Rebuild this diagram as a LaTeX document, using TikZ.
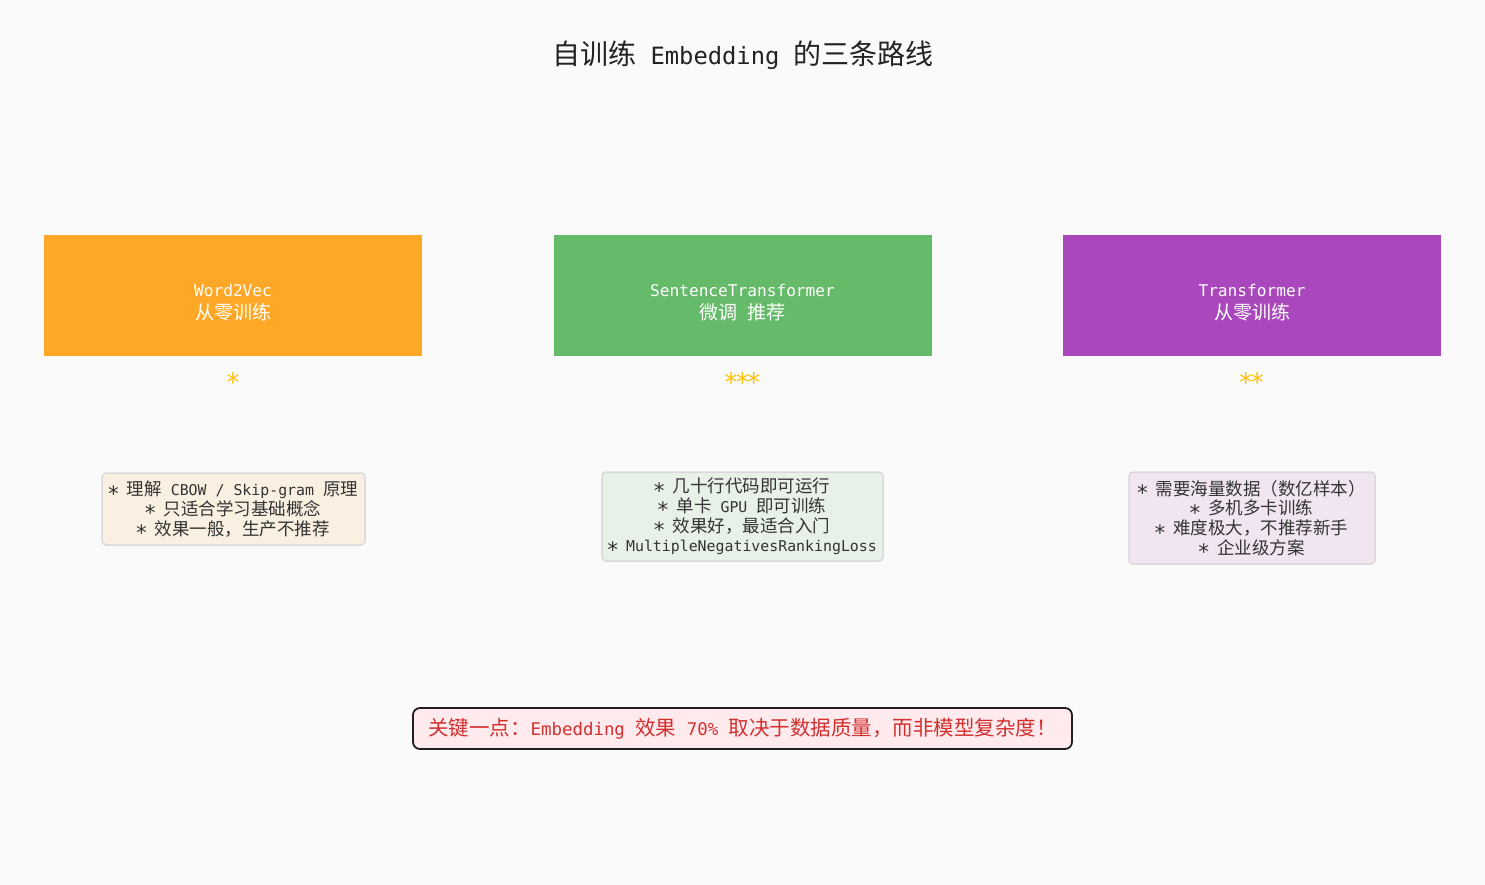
\documentclass[tikz,border=0pt]{standalone}
\usepackage{fontspec}
\setmainfont{DejaVu Sans Mono}[Scale=0.85]
\newfontfamily\cjkf{Noto Sans CJK SC}
\newcommand\zh[1]{{\cjkf #1}}
\newcommand\bul{\makebox[9pt]{\smash{\raisebox{-5.5pt}{\fontsize{25}{25}\selectfont*}}}}
\definecolor{bgc}{HTML}{FAFAFA}
\definecolor{c1}{HTML}{FFA726}
\definecolor{c2}{HTML}{66BB6A}
\definecolor{c3}{HTML}{AB47BC}
\definecolor{starc}{HTML}{FFC107}
\definecolor{nf1}{HTML}{FAF0E1}
\definecolor{nf2}{HTML}{E8F1E8}
\definecolor{nf3}{HTML}{F1E5F2}
\definecolor{nbd}{HTML}{D9D9D9}
\definecolor{txt}{HTML}{333333}
\definecolor{ttl}{HTML}{222222}
\definecolor{redt}{HTML}{D32F2F}
\definecolor{keyf}{HTML}{FFEBEE}
\definecolor{keyb}{HTML}{1F1F1F}
\begin{document}
\begin{tikzpicture}[x=1pt,y=-1pt,
  topbox/.style={rectangle, minimum width=378pt, minimum height=121pt, inner sep=0pt},
  toplabel/.style={text=white, align=center, font=\fontsize{19}{23}\selectfont},
  notebox/.style={rectangle, rounded corners=4pt, draw=nbd, line width=1.5pt, align=center, inner sep=0pt, text=txt, font=\fontsize{17.5}{19.7}\selectfont},
  stars/.style={text=starc, inner sep=0pt, font=\fontsize{30}{30}\selectfont},
  keybox/.style={rectangle, rounded corners=7pt, draw=keyb, line width=1.8pt, fill=keyf, text=redt, minimum width=659pt, minimum height=41pt, inner sep=0pt, font=\fontsize{20.5}{24}\selectfont}
]
\fill[bgc] (0,0) rectangle (1485,885);
\useasboundingbox (0,0) rectangle (1485,885);

\node[text=ttl, font=\fontsize{28}{32}\selectfont] (title) at (743,55) {\zh{自训练} Embedding \zh{的三条路线}};

\node[topbox, fill=c1] (t1) at (233,295.5) {};
\node[topbox, fill=c2] (t2) at (742.5,295.5) {};
\node[topbox, fill=c3] (t3) at (1252,295.5) {};
\node[toplabel] (l1) at (233,302.5) {Word2Vec\\\zh{从零训练}};
\node[toplabel] (l2) at (742.5,302.5) {SentenceTransformer\\\zh{微调} \zh{推荐}};
\node[toplabel] (l3) at (1252,302.5) {Transformer\\\zh{从零训练}};

\node[stars] (s1) at (233,382) {*};
\node[stars] (s2) at (742.5,382) {*\kern-4pt*\kern-4pt*};
\node[stars] (s3) at (1251.5,382) {*\kern-4pt*};

\node[notebox, fill=nf1, minimum width=263pt, minimum height=72pt] (n1) at (233.5,509) {\bul{} \zh{理解} CBOW / Skip-gram \zh{原理}\\\bul{} \zh{只适合学习基础概念}\\\bul{} \zh{效果一般，生产不推荐}};
\node[notebox, fill=nf2, minimum width=281pt, minimum height=89pt] (n2) at (742.5,516.5) {\bul{} \zh{几十行代码即可运行}\\\bul{} \zh{单卡} GPU \zh{即可训练}\\\bul{} \zh{效果好，最适合入门}\\\bul{} MultipleNegativesRankingLoss};
\node[notebox, fill=nf3, minimum width=246pt, minimum height=92pt] (n3) at (1252,518) {\bul{} \zh{需要海量数据（数亿样本）}\\\bul{} \zh{多机多卡训练}\\\bul{} \zh{难度极大，不推荐新手}\\\bul{} \zh{企业级方案}};

\node[keybox] (key) at (742.5,728.5) {\zh{关键一点：}Embedding \zh{效果} 70\% \zh{取决于数据质量，而非模型复杂度！}};
\end{tikzpicture}
\end{document}
